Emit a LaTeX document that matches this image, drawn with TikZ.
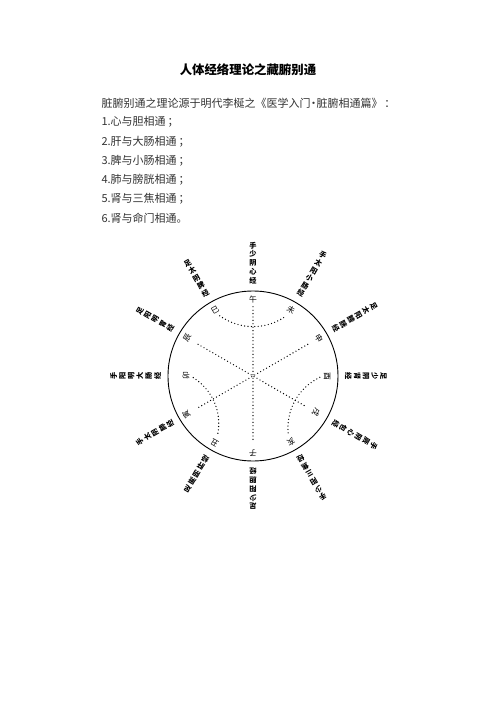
\documentclass[tikz,border=0pt]{standalone}
\usepackage{fontspec}
\setmainfont{Noto Sans CJK SC}
\definecolor{inkgray}{HTML}{333333}
\tikzset{
  branch/.style={inner sep=1pt, font=\fontsize{7.8}{8}\selectfont},
  meridian/.style={inner sep=0pt, align=center, font=\fontsize{7.2}{8.8}\selectfont\bfseries},
  link/.style={line width=1.35pt, line cap=round, dash pattern=on 0pt off 3.4pt, shorten <=3pt, shorten >=3pt},
}

\begin{document}
\begin{tikzpicture}[x=1pt,y=1pt]
    \useasboundingbox (-253,-326) rectangle (243,376);
    \fill [white] (-253,-326) rectangle (243,376);

    % Title and the lines of text above the wheel:
    \node (title) at (-5,306) {\fontsize{12.4}{14}\selectfont\bfseries 人体经络理论之藏腑别通};
    \begin{scope}[inkgray,font=\fontsize{11}{13}\selectfont]
    \node [anchor=west] (src) at (-155,273) {脏腑别通之理论源于明代李梴之《医学入门\kern-2.5pt·\kern-2.5pt脏腑相通篇》\,：};
    \foreach \i/\t in {1/心与胆相通\,；, 2/肝与大肠相通\,；, 3/脾与小肠相通\,；, 4/肺与膀胱相通\,；, 5/肾与三焦相通\,；, 6/肾与命门相通。}
        \node [anchor=west] (ln\i) at (-155,273-19.2*\i) {\i.\t};
    \end{scope}

    % Wheel:
    % The rim, then each branch inside it and its meridian outside it:
    \draw [line width=0.9pt] (0,0) circle (85pt);
    \foreach \a/\r/\b/\m in {90/76/午/{手\\少\\阴\\心\\经}, 60/76/未/{手\\太\\阳\\小\\肠\\经},
        30/76/申/{足\\太\\阳\\膀\\胱\\经}, 0/74/酉/{足\\少\\阴\\肾\\经},
        -30/73/戌/{手\\厥\\阴\\心\\包\\经}, -60/76/亥/{手\\少\\阳\\三\\焦\\经},
        -90/77/子/{足\\少\\阳\\胆\\经}, -120/77/丑/{足\\厥\\阴\\肝\\经},
        -150/77/寅/{手\\太\\阴\\肺\\经}, 180/67/卯/{手\\阳\\明\\大\\肠\\经},
        150/76/辰/{足\\阳\\明\\胃\\经}, 120/76/巳/{足\\太\\阴\\脾\\经}} {
        \node [branch,rotate=\a-90] (br\a) at (\a:\r) {\b};
        \node [meridian,rotate=\a-90,anchor=south] (mer\a) at (\a:92) {\m};
    }

    % Links between the paired branches:
    \draw [link,shorten <=2pt,shorten >=9pt] (br90.south) -- (br-90.south);
    \draw [link,shorten <=8pt,shorten >=8pt] (br150.south) -- (br-30.south);
    \draw [link,shorten <=8pt,shorten >=8pt] (br30.south) -- (br-150.south);
    \draw [link] (br120.south) to [bend right=35] (br60.south);
    \draw [link] (br180.south) to [bend left=35] (br-120.south);
    \draw [link] (br0.south) to [bend right=35] (br-60.south);
\end{tikzpicture}
\end{document}
